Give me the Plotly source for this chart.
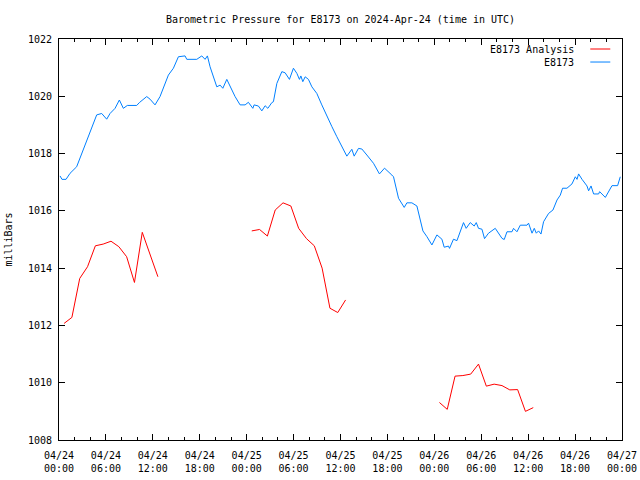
import pandas as pd
import plotly.graph_objects as go

START = pd.Timestamp("2024-04-24 00:00")

# E8173 observed pressure: hours since start, pressure (mb)
obs_hours = [0.13, 0.38, 0.9, 1.41, 2.26, 3.11, 3.97, 4.82, 5.46, 6.1, 6.53, 7.17, 7.72, 8.23, 8.74,
             9.94, 10.28, 11.22, 11.64, 12.28, 12.92, 13.35, 13.99, 14.63, 15.27, 16.12, 16.34, 17.62,
             18.26, 18.68, 18.98, 19.32, 20.18, 20.6, 20.95, 21.46, 21.88, 22.52, 23.16, 23.8, 24.22,
             24.79, 24.95, 25.5, 25.94, 26.36, 26.71, 27.22, 27.42, 27.86, 28.5, 28.92, 29.47, 29.98,
             30.42, 30.75, 30.93, 31.18, 31.48, 31.9, 32.34, 32.97, 33.61, 34.25, 34.9, 35.53, 36.17,
             36.81, 37.45, 37.75, 38.3, 38.73, 39.37, 40.22, 40.98, 41.63, 42.57, 42.78, 43.42, 44.15,
             44.49, 45.13, 45.77, 46.19, 46.54, 47.05, 47.69, 48.33, 48.97, 49.26, 49.81, 49.94, 50.45,
             50.89, 51.31, 51.73, 52.07, 52.59, 53.1, 53.36, 53.65, 54.09, 54.42, 54.93, 55.79, 56.65,
             56.94, 57.29, 57.93, 58.13, 58.57, 58.99, 59.85, 60.05, 60.49, 60.78, 61.04, 61.33, 61.64,
             61.97, 62.61, 63.17, 63.69, 64.11, 64.4, 64.96, 65.6, 66.03, 66.25, 66.45, 66.89, 67.52,
             67.73, 68.04, 68.37, 69.01, 69.14, 69.44, 69.87, 70.72, 71.44, 71.78]
obs_mb = [1017.22, 1017.1, 1017.1, 1017.31, 1017.54, 1018.12, 1018.7, 1019.35, 1019.4, 1019.2, 1019.4,
          1019.58, 1019.87, 1019.58, 1019.68, 1019.68, 1019.78, 1019.99, 1019.9, 1019.7, 1019.99,
          1020.28, 1020.74, 1020.98, 1021.38, 1021.41, 1021.29, 1021.29, 1021.41, 1021.29, 1021.41,
          1021.03, 1020.33, 1020.39, 1020.28, 1020.59, 1020.33, 1019.99, 1019.7, 1019.7, 1019.79,
          1019.58, 1019.7, 1019.66, 1019.49, 1019.67, 1019.58, 1019.78, 1019.81, 1020.45, 1020.86,
          1020.82, 1020.59, 1020.98, 1020.8, 1020.59, 1020.71, 1020.51, 1020.68, 1020.59, 1020.33,
          1020.1, 1019.7, 1019.35, 1018.94, 1018.59, 1018.24, 1017.91, 1018.15, 1017.91, 1018.18,
          1018.16, 1017.95, 1017.66, 1017.29, 1017.49, 1017.25, 1017.19, 1016.44, 1016.12, 1016.28,
          1016.28, 1016.17, 1015.68, 1015.3, 1015.1, 1014.81, 1015.16, 1015.01, 1014.73, 1014.77,
          1014.69, 1015.01, 1014.96, 1015.27, 1015.59, 1015.39, 1015.59, 1015.47, 1015.59, 1015.39,
          1015.36, 1015.03, 1015.22, 1015.39, 1015.04, 1015.0, 1015.27, 1015.27, 1015.39, 1015.27,
          1015.5, 1015.5, 1015.57, 1015.22, 1015.39, 1015.22, 1015.3, 1015.19, 1015.62, 1015.91,
          1016.03, 1016.38, 1016.55, 1016.79, 1016.79, 1016.94, 1017.19, 1017.1, 1017.29, 1017.1,
          1016.87, 1016.7, 1016.87, 1016.59, 1016.59, 1016.67, 1016.59, 1016.47, 1016.88, 1016.88,
          1017.19]

# E8173 Analysis: three hourly runs (start hour of each run, values)
ana_starts = [0.65, 24.65, 48.65]
ana_run1 = [1012.07, 1012.28, 1013.64, 1014.05, 1014.78, 1014.84, 1014.94, 1014.75, 1014.4,
            1013.5, 1015.25, 1014.5, 1013.7]
ana_run2 = [1015.30, 1015.35, 1015.12, 1016.03, 1016.28, 1016.17, 1015.39, 1015.03, 1014.78,
            1014.0, 1012.6, 1012.45, 1012.89]
ana_run3 = [1009.31, 1009.07, 1010.23, 1010.25, 1010.3, 1010.65, 1009.88, 1009.95, 1009.9,
            1009.75, 1009.76, 1009.0, 1009.13]

tick_hours = list(range(0, 73, 6))
y_ticks = [1008, 1010, 1012, 1014, 1016, 1018, 1020, 1022]

def ts(h):
    return START + pd.Timedelta(hours=h)

ana_x, ana_y = [], []
for s, run in zip(ana_starts, [ana_run1, ana_run2, ana_run3]):
    for i, v in enumerate(run):
        ana_x.append(ts(s + i))
        ana_y.append(v)
    ana_x.append(None)
    ana_y.append(None)

obs_x = [ts(h) for h in obs_hours]

FONT = "DejaVu Sans Mono"
fig = go.Figure()
fig.add_trace(go.Scatter(x=ana_x, y=ana_y, mode="lines", name="E8173 Analysis",
                         line=dict(color="#ff0000", width=1), connectgaps=False))
fig.add_trace(go.Scatter(x=obs_x, y=obs_mb, mode="lines", name="E8173",
                         line=dict(color="#0080ff", width=1)))

tickvals = [ts(h) for h in tick_hours]
ticktext = [t.strftime("%m/%d") + "<br>" + t.strftime("%H:%M") for t in tickvals]

fig.update_layout(
    width=640, height=480,
    margin=dict(l=59, r=18, t=39, b=40),
    paper_bgcolor="white", plot_bgcolor="white",
    font=dict(family=FONT, size=10, color="black"),
    showlegend=False,
    title=dict(text="Barometric Pressure for E8173 on 2024-Apr-24 (time in UTC)",
               x=0.5, xref="paper", y=1 - 19 / 480, yanchor="middle",
               font=dict(family=FONT, size=10, color="black")),
    xaxis=dict(range=[ts(0), ts(72)], tickvals=tickvals, ticktext=ticktext,
               automargin=False, ticklabelstandoff=6,
               ticks="inside", ticklen=6, tickcolor="black", tickwidth=1,
               showgrid=False, zeroline=False, showline=True, linecolor="black",
               linewidth=1, mirror="allticks",
               minor=dict(dtick=2 * 3600 * 1000, tick0=ts(0), ticks="inside", ticklen=3,
                          tickcolor="black", showgrid=False),
               tickfont=dict(family=FONT, size=10)),
    yaxis=dict(range=[1008, 1022], tickvals=y_ticks,
               automargin=False, ticklabelstandoff=4,
               ticks="inside", ticklen=6, tickcolor="black", tickwidth=1,
               showgrid=False, zeroline=False, showline=True, linecolor="black",
               linewidth=1, mirror="allticks",
               title=dict(text="milliBars", standoff=13, font=dict(family=FONT, size=10)),
               tickfont=dict(family=FONT, size=10)),
)

# legend drawn gnuplot-style (text left, sample line right)
legend_items = [("E8173 Analysis", "#ff0000"), ("E8173", "#0080ff")]
for i, (name, col) in enumerate(legend_items):
    yy = 1 - (10 + 13 * i) / 400.7
    fig.add_annotation(text=name, xref="paper", yref="paper", x=(575.5 - 59) / 562.7, y=yy,
                       xanchor="right", yanchor="middle", showarrow=False,
                       font=dict(family=FONT, size=10, color="black"))
    fig.add_shape(type="line", xref="paper", yref="paper",
                  x0=(590 - 59) / 562.7, x1=(610 - 59) / 562.7, y0=yy, y1=yy,
                  line=dict(color=col, width=1))

fig.write_html("out.html")
